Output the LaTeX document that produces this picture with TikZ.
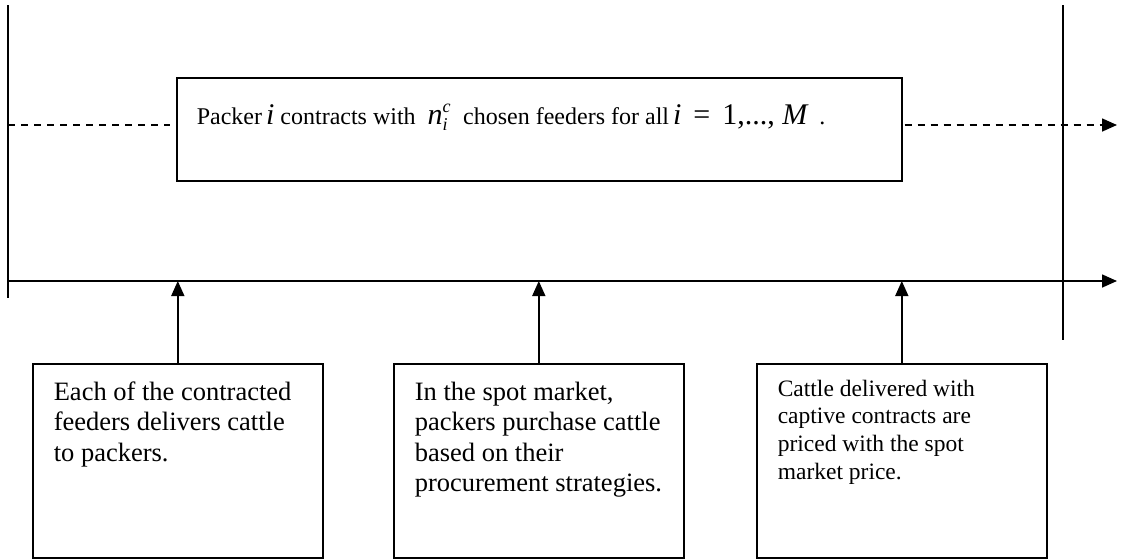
\documentclass[tikz,border=0pt]{standalone}
\usepackage{fontspec}
\setmainfont{Liberation Serif}
\usetikzlibrary{arrows.meta}

\newcommand{\mv}[1]{{\fontsize{30}{30}\selectfont\itshape #1}}
\newcommand{\mr}[1]{{\fontsize{30}{30}\selectfont #1}}
\newcommand{\ms}[1]{\mbox{\fontsize{18}{18}\selectfont\itshape #1}}

\tikzset{
stage/.style={draw,anchor=north west,inner xsep=21pt,inner ysep=0pt,
minimum width=290pt},
arr/.style={-{Triangle[length=15pt,width=13pt]}},
pointille/.style={dash pattern=on 7pt off 6pt}
}

\begin{document}
\begin{tikzpicture}[x=1pt,y=-1pt,line width=1.6pt]
\useasboundingbox (0,0) rectangle (1125,558);

% Period bounds
\coordinate (L1) at (8,5);
\coordinate (L2) at (8,298);
\coordinate (R1) at (1063,5);
\coordinate (R2) at (1063,340);
\draw (L1) -- (L2);
\draw (R1) -- (R2);

% Time axis
\coordinate (T0) at (8,281);
\coordinate (T1) at (1117,281);
\draw[arr] (T0) -- (T1);

% Contracts
\node[stage,inner xsep=20pt]
(C)
at (176,77)
{\parbox[b][103pt][t]{685pt}{\fontsize{24}{28}\selectfont\vspace*{26pt}%
Packer\,\mv{i} contracts with \ \mv{n}$^{\raisebox{3pt}{\ms{c}}}_{\ms{i}}$\ \ chosen feeders for all\,\mv{i} \ \mr{=} \ \mr{1,..., }\mv{M}\ \ .}};

\coordinate (D0) at (8,125);
\coordinate (D1) at (1117,125);
\draw[pointille,shorten >=6pt] (D0) -- (D0 -| C.west);
\draw[pointille,arr,shorten <=2pt] (D0 -| C.east) -- (D1);

% Stages
\node[stage]
(B1)
at (32,363)
{\parbox[b][194pt][t]{248pt}{\fontsize{26.5}{30.5}\selectfont\vspace*{18pt}%
Each of the contracted\\feeders delivers cattle\\to packers.}};

\node[stage]
(B2)
at (393,363)
{\parbox[b][194pt][t]{248pt}{\fontsize{26.5}{30.5}\selectfont\vspace*{18pt}%
In the spot market,\\packers purchase cattle\\based on their\\procurement strategies.}};

\node[stage]
(B3)
at (756,363)
{\parbox[b][194pt][t]{248pt}{\fontsize{23.5}{27.7}\selectfont\vspace*{16pt}%
Cattle delivered with\\captive contracts are\\priced with the spot\\market price.}};

% Arrows
\draw[arr] (B1.north) -- (B1.north |- T0);
\draw[arr] (B2.north) -- (B2.north |- T0);
\draw[arr] (B3.north) -- (B3.north |- T0);

\end{tikzpicture}
\end{document}
